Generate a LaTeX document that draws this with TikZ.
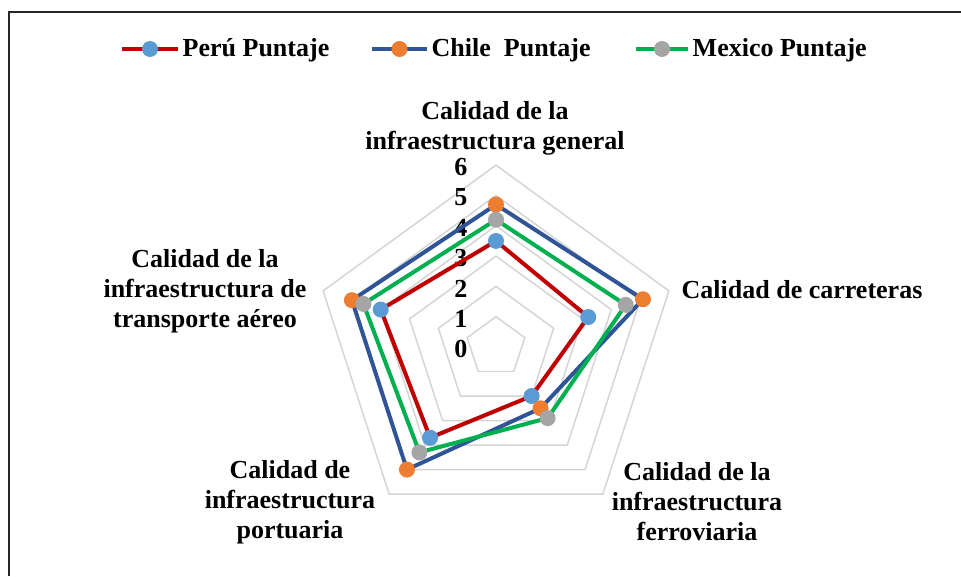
\documentclass[tikz,border=0pt]{standalone}
\usepackage{fontspec}
\setmainfont{Liberation Serif}
\usetikzlibrary{calc}
\definecolor{peruln}{HTML}{C00000}
\definecolor{perupt}{HTML}{5B9BD5}
\definecolor{chileln}{HTML}{2F5597}
\definecolor{chilept}{HTML}{ED7D31}
\definecolor{mexln}{HTML}{00B050}
\definecolor{mexpt}{HTML}{A5A5A5}
\begin{document}
\begin{tikzpicture}[x=0.75pt,y=0.75pt,
	rejilla/.style={draw=black!17,line width=1.1pt},
	serie/.style={line width=3pt,line join=round},
	punto/.style={circle,inner sep=0pt,minimum size=12pt},
	rotulo/.style={font=\bfseries\fontsize{19.5}{22.5}\selectfont,align=center}]
	\useasboundingbox (0,0) rectangle (961,576);
	\def\r{30.3} % un punto de la escala
	\coordinate (O) at (496,229);
	\draw[line width=2pt,black!85] (9,0) -- (9,564) -- (961,564);
	% rejilla
	\foreach \k in {1,...,6}
		\draw[rejilla] ($(O)+(90:\k*\r)$) -- ($(O)+(18:\k*\r)$) -- ($(O)+(-54:\k*\r)$) -- ($(O)+(-126:\k*\r)$) -- ($(O)+(162:\k*\r)$) -- cycle;
	\foreach \k in {0,...,6}
		\node[rotulo,anchor=east] (n\k) at ($(O)+(-24,\k*\r-2)$) {\k};
	% ejes
	\node[rotulo] (ejeA) at (495,448) {Calidad de la\\infraestructura general};
	\node[rotulo] (ejeB) at (802,286) {Calidad de carreteras};
	\node[rotulo] (ejeC) at (697,74) {Calidad de la\\infraestructura\\ferroviaria};
	\node[rotulo] (ejeD) at (290,74) {Calidad de\\infraestructura\\portuaria};
	\node[rotulo] (ejeE) at (205,285) {Calidad de la\\infraestructura de\\transporte aéreo};
	% series
	\foreach \v [count=\i] in {3.5,3.2,2.0,3.7,4.0}
		\coordinate (pe\i) at ($(O)+({162-72*\i}:\v*\r)$);
	\foreach \v [count=\i] in {4.7,5.1,2.5,5.0,5.0}
		\coordinate (ch\i) at ($(O)+({162-72*\i}:\v*\r)$);
	\foreach \v [count=\i] in {4.2,4.5,2.9,4.3,4.6}
		\coordinate (mx\i) at ($(O)+({162-72*\i}:\v*\r)$);
	\draw[serie,peruln] (pe1) -- (pe2) -- (pe3) -- (pe4) -- (pe5) -- cycle;
	\foreach \i in {1,...,5} \node[punto,fill=perupt] at (pe\i) {};
	\draw[serie,chileln] (ch1) -- (ch2) -- (ch3) -- (ch4) -- (ch5) -- cycle;
	\foreach \i in {1,...,5} \node[punto,fill=chilept] at (ch\i) {};
	\draw[serie,mexln] (mx1) -- (mx2) -- (mx3) -- (mx4) -- (mx5) -- cycle;
	\foreach \i in {1,...,5} \node[punto,fill=mexpt] at (mx\i) {};
	% leyenda
	\coordinate (lpe) at (122,527); \coordinate (lch) at (372,527); \coordinate (lmx) at (636,527);
	\node[rotulo,anchor=west] (tpe) at (178,526) {Perú Puntaje};
	\node[rotulo,anchor=west] (tch) at (427,526) {Chile~ Puntaje};
	\node[rotulo,anchor=west] (tmx) at (688,526) {Mexico Puntaje};
	\draw[serie,peruln] (lpe) -- (lpe-|tpe.west);
	\node[punto,fill=perupt] at ($(lpe)!0.5!(lpe-|tpe.west)$) {};
	\draw[serie,chileln] (lch) -- (lch-|tch.west);
	\node[punto,fill=chilept] at ($(lch)!0.5!(lch-|tch.west)$) {};
	\draw[serie,mexln] (lmx) -- (lmx-|tmx.west);
	\node[punto,fill=mexpt] at ($(lmx)!0.5!(lmx-|tmx.west)$) {};
\end{tikzpicture}
\end{document}
